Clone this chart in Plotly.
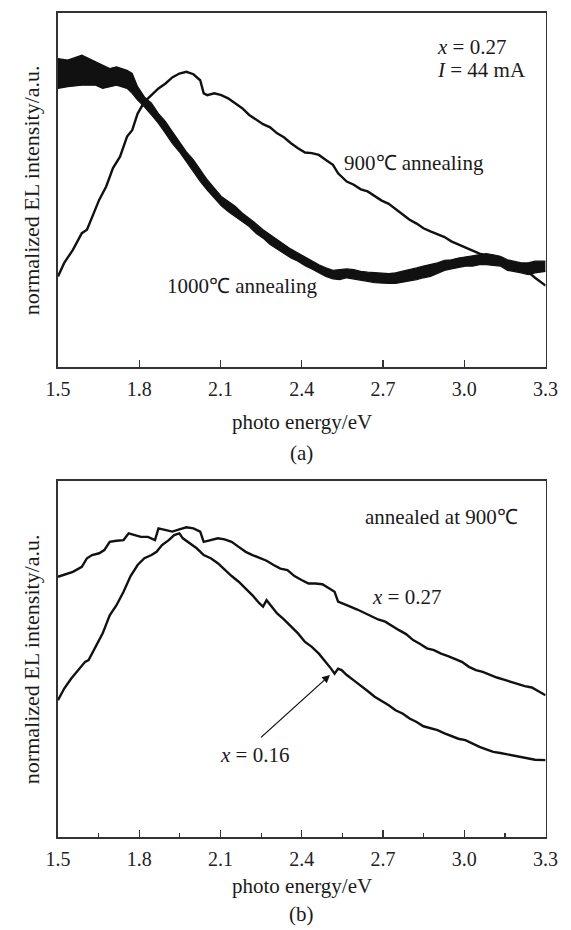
import plotly.graph_objects as go

# ---------------- data ----------------
# Panel (a): x = 0.27, I = 44 mA
energy_a900 = [1.500, 1.523, 1.555, 1.588, 1.607, 1.626, 1.652, 1.678, 1.703, 1.729, 1.755, 1.774,
               1.794, 1.819, 1.845, 1.871, 1.897, 1.922, 1.948, 1.974, 2.000, 2.025, 2.038, 2.051,
               2.077, 2.103, 2.128, 2.154, 2.180, 2.206, 2.231, 2.257, 2.283, 2.309, 2.334, 2.360,
               2.386, 2.412, 2.437, 2.463, 2.489, 2.515, 2.534, 2.566, 2.592, 2.618, 2.643, 2.669,
               2.695, 2.721, 2.746, 2.772, 2.798, 2.824, 2.849, 2.875, 2.901, 2.927, 2.952, 2.978,
               3.004, 3.030, 3.056, 3.081, 3.107, 3.133, 3.159, 3.184, 3.210, 3.236, 3.261, 3.300]
intensity_a900 = [0.256, 0.294, 0.331, 0.378, 0.388, 0.425, 0.472, 0.510, 0.562, 0.594, 0.651, 0.669,
                  0.716, 0.749, 0.768, 0.787, 0.801, 0.818, 0.829, 0.834, 0.827, 0.810, 0.773, 0.768,
                  0.773, 0.768, 0.759, 0.745, 0.731, 0.712, 0.700, 0.686, 0.677, 0.660, 0.649, 0.632,
                  0.618, 0.606, 0.604, 0.599, 0.585, 0.571, 0.547, 0.524, 0.515, 0.502, 0.496, 0.482,
                  0.470, 0.461, 0.446, 0.430, 0.416, 0.405, 0.392, 0.383, 0.374, 0.367, 0.355, 0.346,
                  0.336, 0.327, 0.320, 0.315, 0.305, 0.299, 0.292, 0.285, 0.277, 0.268, 0.252, 0.230]

# 1000 C curve is a dense noisy band: upper and lower envelopes
energy_a1000 = [1.500, 1.536, 1.588, 1.639, 1.665, 1.691, 1.716, 1.755, 1.774, 1.794, 1.819, 1.845,
                1.871, 1.897, 1.922, 1.948, 1.974, 2.000, 2.025, 2.051, 2.077, 2.103, 2.128, 2.154,
                2.180, 2.206, 2.231, 2.257, 2.283, 2.309, 2.334, 2.360, 2.386, 2.412, 2.437, 2.463,
                2.489, 2.515, 2.540, 2.566, 2.592, 2.618, 2.643, 2.669, 2.695, 2.721, 2.746, 2.772,
                2.798, 2.824, 2.849, 2.875, 2.901, 2.927, 2.952, 2.978, 3.004, 3.030, 3.056, 3.081,
                3.107, 3.133, 3.159, 3.184, 3.210, 3.236, 3.261, 3.300]
upper_a1000 = [0.871, 0.867, 0.881, 0.862, 0.853, 0.843, 0.848, 0.838, 0.829, 0.792, 0.763, 0.745,
               0.716, 0.693, 0.665, 0.637, 0.608, 0.585, 0.557, 0.529, 0.505, 0.482, 0.468, 0.454,
               0.435, 0.421, 0.405, 0.388, 0.374, 0.360, 0.346, 0.333, 0.322, 0.311, 0.299, 0.289,
               0.280, 0.273, 0.275, 0.277, 0.275, 0.270, 0.268, 0.266, 0.264, 0.264, 0.266, 0.270,
               0.275, 0.280, 0.285, 0.289, 0.294, 0.301, 0.303, 0.308, 0.311, 0.313, 0.317, 0.320,
               0.317, 0.313, 0.303, 0.299, 0.294, 0.294, 0.299, 0.299]
lower_a1000 = [0.787, 0.792, 0.796, 0.796, 0.787, 0.792, 0.796, 0.787, 0.773, 0.754, 0.735, 0.712,
               0.688, 0.660, 0.632, 0.608, 0.580, 0.552, 0.524, 0.500, 0.477, 0.455, 0.439, 0.425,
               0.411, 0.397, 0.378, 0.364, 0.346, 0.333, 0.322, 0.308, 0.299, 0.286, 0.277, 0.266,
               0.256, 0.249, 0.247, 0.252, 0.249, 0.247, 0.242, 0.238, 0.236, 0.236, 0.236, 0.239,
               0.242, 0.247, 0.252, 0.256, 0.264, 0.273, 0.277, 0.280, 0.285, 0.285, 0.289, 0.289,
               0.286, 0.285, 0.273, 0.270, 0.266, 0.261, 0.266, 0.270]

# Panel (b): annealed at 900 C
energy_b027 = [1.500, 1.523, 1.555, 1.588, 1.607, 1.626, 1.652, 1.671, 1.691, 1.716, 1.742, 1.761,
               1.781, 1.806, 1.832, 1.858, 1.871, 1.897, 1.922, 1.948, 1.974, 2.000, 2.025, 2.038,
               2.064, 2.090, 2.115, 2.141, 2.167, 2.193, 2.218, 2.244, 2.270, 2.296, 2.321, 2.347,
               2.373, 2.399, 2.425, 2.450, 2.476, 2.502, 2.521, 2.534, 2.553, 2.579, 2.605, 2.630,
               2.656, 2.682, 2.708, 2.734, 2.759, 2.785, 2.811, 2.837, 2.862, 2.888, 2.914, 2.940,
               2.965, 2.991, 3.017, 3.043, 3.068, 3.094, 3.120, 3.146, 3.171, 3.197, 3.223, 3.249,
               3.274, 3.300]
intensity_b027 = [0.731, 0.736, 0.745, 0.759, 0.783, 0.792, 0.797, 0.806, 0.829, 0.832, 0.834, 0.853,
                  0.848, 0.843, 0.843, 0.834, 0.867, 0.862, 0.858, 0.864, 0.870, 0.867, 0.858, 0.829,
                  0.834, 0.839, 0.836, 0.829, 0.815, 0.801, 0.792, 0.783, 0.776, 0.764, 0.754, 0.750,
                  0.733, 0.722, 0.712, 0.712, 0.710, 0.698, 0.689, 0.661, 0.656, 0.647, 0.639, 0.630,
                  0.620, 0.611, 0.605, 0.592, 0.581, 0.570, 0.553, 0.542, 0.530, 0.525, 0.515, 0.508,
                  0.501, 0.492, 0.478, 0.469, 0.464, 0.455, 0.448, 0.442, 0.436, 0.429, 0.424, 0.420,
                  0.408, 0.398]

energy_b016 = [1.500, 1.523, 1.549, 1.575, 1.600, 1.613, 1.639, 1.665, 1.691, 1.716, 1.742, 1.768,
               1.794, 1.819, 1.845, 1.864, 1.884, 1.909, 1.929, 1.948, 1.961, 1.987, 2.012, 2.038,
               2.064, 2.090, 2.115, 2.141, 2.167, 2.193, 2.218, 2.244, 2.257, 2.270, 2.289, 2.309,
               2.334, 2.360, 2.386, 2.412, 2.437, 2.463, 2.489, 2.508, 2.521, 2.534, 2.547, 2.566,
               2.592, 2.618, 2.643, 2.669, 2.695, 2.721, 2.746, 2.772, 2.798, 2.824, 2.849, 2.875,
               2.901, 2.927, 2.952, 2.978, 3.004, 3.030, 3.056, 3.081, 3.107, 3.133, 3.159, 3.184,
               3.210, 3.236, 3.261, 3.300]
intensity_b016 = [0.384, 0.417, 0.445, 0.469, 0.492, 0.497, 0.534, 0.572, 0.623, 0.651, 0.689, 0.733,
                  0.764, 0.783, 0.792, 0.801, 0.820, 0.834, 0.848, 0.853, 0.839, 0.825, 0.811, 0.792,
                  0.783, 0.769, 0.750, 0.733, 0.717, 0.698, 0.679, 0.656, 0.647, 0.665, 0.647, 0.628,
                  0.611, 0.592, 0.572, 0.548, 0.534, 0.515, 0.492, 0.473, 0.459, 0.473, 0.469, 0.455,
                  0.440, 0.426, 0.410, 0.394, 0.382, 0.370, 0.356, 0.347, 0.333, 0.323, 0.311, 0.305,
                  0.300, 0.291, 0.283, 0.276, 0.272, 0.262, 0.253, 0.246, 0.239, 0.236, 0.232, 0.227,
                  0.223, 0.220, 0.217, 0.216]

tick_values = [1.5, 1.8, 2.1, 2.4, 2.7, 3.0, 3.3]
tick_labels = ["1.5", "1.8", "2.1", "2.4", "2.7", "3.0", "3.3"]

# ---------------- figure ----------------
W, H = 571, 930
SERIF = "Liberation Serif, Times New Roman, serif"
INK = "#111111"
AX = "#333333"

def px_x(p):
    return p / W

def px_y(p):
    return 1 - p / H

fig = go.Figure()

line_style = dict(color=INK, width=2.4)

# panel (a)
fig.add_trace(go.Scatter(x=energy_a1000, y=lower_a1000, mode="lines",
                         line=dict(color=INK, width=1.2), xaxis="x", yaxis="y",
                         hoverinfo="skip", showlegend=False))
fig.add_trace(go.Scatter(x=energy_a1000, y=upper_a1000, mode="lines",
                         line=dict(color=INK, width=1.2), fill="tonexty", fillcolor=INK,
                         xaxis="x", yaxis="y", name="1000℃ annealing", showlegend=False))
fig.add_trace(go.Scatter(x=energy_a900, y=intensity_a900, mode="lines", line=line_style,
                         xaxis="x", yaxis="y", name="900℃ annealing", showlegend=False))

# panel (b)
fig.add_trace(go.Scatter(x=energy_b027, y=intensity_b027, mode="lines", line=line_style,
                         xaxis="x2", yaxis="y2", name="x = 0.27", showlegend=False))
fig.add_trace(go.Scatter(x=energy_b016, y=intensity_b016, mode="lines", line=line_style,
                         xaxis="x2", yaxis="y2", name="x = 0.16", showlegend=False))

x_dom = [px_x(48), px_x(557)]

def xaxis_cfg(anchor, minor):
    cfg = dict(domain=x_dom, anchor=anchor, range=[1.5, 3.3],
               tickvals=tick_values, ticktext=tick_labels,
               ticks="inside", ticklen=7, tickwidth=1.4, tickcolor=AX,
               showline=True, linecolor=AX, linewidth=1.6, mirror=True,
               showgrid=False, zeroline=False, ticklabelstandoff=3,
               tickfont=dict(family=SERIF, size=20, color="#222"))
    if minor:
        cfg["minor"] = dict(ticks="inside", ticklen=4, tickwidth=1.2, tickcolor=AX,
                            tick0=1.5, dtick=0.15, showgrid=False)
    return cfg

def yaxis_cfg(anchor, dom):
    return dict(domain=dom, anchor=anchor, range=[0, 1],
                showticklabels=False, ticks="", showgrid=False, zeroline=False,
                showline=True, linecolor=AX, linewidth=1.6, mirror=True)

fig.update_layout(
    width=W, height=H,
    margin=dict(l=0, r=0, t=0, b=0),
    paper_bgcolor="white", plot_bgcolor="white",
    showlegend=False,
    xaxis=xaxis_cfg("y", False),
    yaxis=yaxis_cfg("x", [px_y(367), px_y(13)]),
    xaxis2=xaxis_cfg("y2", True),
    yaxis2=yaxis_cfg("x2", [px_y(837), px_y(481)]),
    font=dict(family=SERIF, color="#1a1a1a"),
)

TXT = dict(family=SERIF, size=21, color="#1a1a1a")
YT = dict(family=SERIF, size=22, color="#1a1a1a")
ann = []
# axis titles and panel labels (paper coordinates)
for yc in (190, 659):
    ann.append(dict(text="normalized EL intensity/a.u.", xref="paper", yref="paper",
                    x=px_x(20), y=px_y(yc), textangle=-90, showarrow=False,
                    xanchor="center", yanchor="middle", font=YT))
for yc in (422, 886):
    ann.append(dict(text="photo energy/eV", xref="paper", yref="paper",
                    x=px_x(302.5), y=px_y(yc), showarrow=False,
                    xanchor="center", yanchor="middle", font=TXT))
ann.append(dict(text="(a)", xref="paper", yref="paper", x=px_x(302.5), y=px_y(453),
                showarrow=False, xanchor="center", yanchor="middle", font=TXT))
ann.append(dict(text="(b)", xref="paper", yref="paper", x=px_x(302.5), y=px_y(914),
                showarrow=False, xanchor="center", yanchor="middle", font=TXT))

# panel (a) labels
ann.append(dict(text="<i>x</i> = 0.27", xref="x", yref="y", x=2.89, y=0.904,
                showarrow=False, xanchor="left", yanchor="middle", font=TXT))
ann.append(dict(text="<i>I</i> = 44 mA", xref="x", yref="y", x=2.89, y=0.838,
                showarrow=False, xanchor="left", yanchor="middle", font=TXT))
ann.append(dict(text="900℃ annealing", xref="x", yref="y", x=2.813, y=0.576,
                showarrow=False, xanchor="center", yanchor="middle", font=TXT))
ann.append(dict(text="1000℃ annealing", xref="x", yref="y", x=2.18, y=0.228,
                showarrow=False, xanchor="center", yanchor="middle", font=TXT))

# panel (b) labels
ann.append(dict(text="annealed at 900℃", xref="x2", yref="y2", x=2.916, y=0.90,
                showarrow=False, xanchor="center", yanchor="middle", font=TXT))
ann.append(dict(text="<i>x</i> = 0.27", xref="x2", yref="y2", x=2.788, y=0.675,
                showarrow=False, xanchor="center", yanchor="middle", font=TXT))
ann.append(dict(text="<i>x</i> = 0.16", xref="x2", yref="y2", x=2.224, y=0.23,
                showarrow=False, xanchor="center", yanchor="middle", font=TXT))
ann.append(dict(text="", xref="x2", yref="y2", x=2.504, y=0.455,
                axref="x2", ayref="y2", ax=2.244, ay=0.276,
                showarrow=True, arrowhead=2, arrowsize=1.2, arrowwidth=1.3, arrowcolor=INK))

fig.update_layout(annotations=ann)
fig.write_html("out.html",
               config={"displayModeBar": False, "staticPlot": True},
               post_script="document.body.style.margin='0px';document.body.style.overflow='hidden';")
